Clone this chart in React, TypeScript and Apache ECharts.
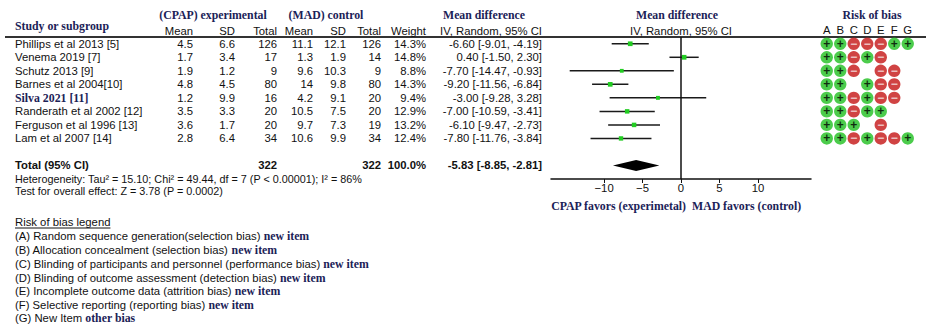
import React, { useEffect, useRef } from "react";
import * as echarts from "echarts";

// ---------- data ----------
const studies = [
  "Phillips et al 2013 [5]",
  "Venema 2019 [7]",
  "Schutz 2013 [9]",
  "Barnes et al 2004[10]",
  "Silva 2021 [11]",
  "Randerath et al 2002 [12]",
  "Ferguson et al 1996 [13]",
  "Lam et al 2007 [14]",
];
const expMean = [4.5, 1.7, 1.9, 4.8, 1.2, 3.5, 3.6, 2.8];
const expSD = [6.6, 3.4, 1.2, 4.5, 9.9, 3.3, 1.7, 6.4];
const expTotal = [126, 17, 9, 80, 16, 20, 20, 34];
const ctlMean = [11.1, 1.3, 9.6, 14, 4.2, 10.5, 9.7, 10.6];
const ctlSD = [12.1, 1.9, 10.3, 9.8, 9.1, 7.5, 7.3, 9.9];
const ctlTotal = [126, 14, 9, 80, 20, 20, 19, 34];
const weights = [14.3, 14.8, 8.8, 14.3, 9.4, 12.9, 13.2, 12.4];
const md = [-6.6, 0.4, -7.7, -9.2, -3.0, -7.0, -6.1, -7.8];
const ciLow = [-9.01, -1.5, -14.47, -11.56, -9.28, -10.59, -9.47, -11.76];
const ciHigh = [-4.19, 2.3, -0.93, -6.84, 3.28, -3.41, -2.73, -3.84];

const totalLabel = "Total (95% CI)";
const totalRowIndex = 9;
const totalExp = 322;
const totalCtl = 322;
const totalWeight = 100.0;
const totalMD = -5.83;
const totalLow = -8.85;
const totalHigh = -2.81;

const xTicks = [-10, -5, 0, 5, 10];

const robDomains = ["A", "B", "C", "D", "E", "F", "G"];
const robRows = [
  "++---++",
  "++-+-  ",
  "++- -- ",
  "++ +-- ",
  "++-+-- ",
  "++-++  ",
  "+++ -  ",
  "++-+--+",
];

const heterogeneity =
  "Heterogeneity: Tau\u00b2 = 15.10; Chi\u00b2 = 49.44, df = 7 (P < 0.00001); I\u00b2 = 86%";
const overallEffect = "Test for overall effect: Z = 3.78 (P = 0.0002)";
const legendTitle = "Risk of bias legend";
const legendItems = [
  ["(A) Random sequence generation(selection bias) ", "new item"],
  ["(B) Allocation concealment (selection bias) ", "new item"],
  ["(C) Blinding of participants and personnel (performance bias) ", "new item"],
  ["(D) Blinding of outcome assessment (detection bias) ", "new item"],
  ["(E) Incomplete outcome data (attrition bias) ", "new item"],
  ["(F) Selective reporting (reporting bias) ", "new item"],
  ["(G) New Item ", "other bias"],
];

// ---------- styles ----------
const SANS = '"Liberation Sans", Arial, sans-serif';
const SERIF = '"Liberation Serif", "Times New Roman", serif';
const FS = 11.3;
const SFS = 11.8;
const NAVY = "#1b2257";
const INK = "#111111";
const GREEN = "#1fbf1f";
const RED = "#c41414";
const MARK = "#22cc22";

const colRight = [193, 235, 277, 313, 346, 381, 426, 542];
const nameX = 15;

const f2 = (v: number) => v.toFixed(2);
const ciText = (m: number, l: number, h: number) => `${f2(m)} [${f2(l)}, ${f2(h)}]`;

type Row = { name: string; cells: string[]; row: number; serifName: boolean; bold: boolean };
const tableRows: Row[] = studies.map((s, i) => ({
  name: s,
  cells: [
    String(expMean[i]),
    String(expSD[i]),
    String(expTotal[i]),
    String(ctlMean[i]),
    String(ctlSD[i]),
    String(ctlTotal[i]),
    weights[i].toFixed(1) + "%",
    ciText(md[i], ciLow[i], ciHigh[i]),
  ],
  row: i,
  serifName: s.startsWith("Silva"),
  bold: false,
}));
tableRows.push({
  name: totalLabel,
  cells: ["", "", String(totalExp), "", "", String(totalCtl), totalWeight.toFixed(1) + "%", ciText(totalMD, totalLow, totalHigh)],
  row: totalRowIndex,
  serifName: false,
  bold: true,
});

function txt(text: string, x: number, y: number, opts: any = {}) {
  const align = opts.align || "left";
  return {
    type: "text",
    x,
    y,
    silent: true,
    style: {
      text,
      fill: opts.color || INK,
      fontSize: opts.size || FS,
      fontFamily: opts.family || SANS,
      fontWeight: opts.weight || "normal",
      align,
      textAlign: align,
      verticalAlign: "middle",
      textVerticalAlign: "middle",
      rich: opts.rich,
    },
  };
}

function measure(text: string, font: string) {
  const c = document.createElement("canvas").getContext("2d");
  if (!c) return text.length * 5.5;
  c.font = font;
  return c.measureText(text).width;
}

export default function App() {
  const ref = useRef<HTMLDivElement>(null);
  useEffect(() => {
    if (!ref.current) return;
    const chart = echarts.init(ref.current, null, { renderer: "svg" });

    const yAxisBase = { type: "value", min: -0.5, max: 10, inverse: true, show: false };

    const robData: any[] = [];
    robRows.forEach((r, i) => {
      r.split("").forEach((c, j) => {
        if (c === " ") return;
        const plus = c === "+";
        robData.push({
          value: [j, i, plus ? 1 : -1],
          itemStyle: { color: plus ? GREEN : RED },
          label: {
            show: true,
            position: "inside",
            formatter: plus ? "+" : "\u2212",
            color: plus ? "#000" : "#f6e6e6",
            fontSize: 12,
            fontWeight: "bold",
            fontFamily: SANS,
          },
        });
      });
    });

    const legendW = measure(legendTitle, `${FS}px ${SANS}`);
    const smallFS = 10.8;

    const graphic: any[] = [
      { type: "line", silent: true, shape: { x1: 5, y1: 37, x2: 926, y2: 37 }, style: { stroke: "#333", lineWidth: 1.8 } },
      txt("Study or subgroup", nameX, 26, { family: SERIF, weight: "bold", size: SFS, color: NAVY }),
      txt("(CPAP) experimental", 213, 15, { family: SERIF, weight: "bold", size: SFS, color: NAVY, align: "center" }),
      txt("(MAD) control", 326, 15, { family: SERIF, weight: "bold", size: SFS, color: NAVY, align: "center" }),
      txt("Mean difference", 484, 15, { family: SERIF, weight: "bold", size: SFS, color: NAVY, align: "center" }),
      txt("Mean", colRight[0], 30.7, { align: "right" }),
      txt("SD", colRight[1], 30.7, { align: "right" }),
      txt("Total", colRight[2], 30.7, { align: "right" }),
      txt("Mean", colRight[3], 30.7, { align: "right" }),
      txt("SD", colRight[4], 30.7, { align: "right" }),
      txt("Total", colRight[5], 30.7, { align: "right" }),
      txt("Weight", colRight[6], 30.7, { align: "right" }),
      txt("IV, Random, 95% CI", colRight[7], 30.7, { align: "right" }),
      txt("Mean difference", 677, 15, { family: SERIF, weight: "bold", size: SFS, color: NAVY, align: "center" }),
      txt("IV, Random, 95% CI", 681, 30.7, { align: "center" }),
      txt("Risk of bias", 872, 15, { family: SERIF, weight: "bold", size: SFS, color: NAVY, align: "center" }),
      txt(heterogeneity, nameX, 178.5, { size: smallFS }),
      txt(overallEffect, nameX, 190.5, { size: smallFS }),
      txt("CPAP favors (experimetal)", 686, 206, { family: SERIF, weight: "bold", size: SFS, color: NAVY, align: "right" }),
      txt("MAD favors (control)", 692, 206, { family: SERIF, weight: "bold", size: SFS, color: NAVY }),
      txt(legendTitle, nameX, 222, {}),
      { type: "line", silent: true, shape: { x1: nameX, y1: 228, x2: nameX + legendW, y2: 228 }, style: { stroke: INK, lineWidth: 1 } },
    ];
    const legendYs = [236, 250, 263.5, 277.5, 291, 305, 318];
    legendItems.forEach((it, k) => {
      graphic.push(
        txt(`{a|${it[0]}}{b|${it[1]}}`, nameX, legendYs[k], {
          rich: {
            a: { fontSize: FS, fontFamily: SANS, fill: INK, color: INK },
            b: { fontSize: SFS, fontFamily: SERIF, fontWeight: "bold", fill: NAVY, color: NAVY },
          },
        })
      );
    });

    chart.setOption({
      animation: false,
      grid: [
        { left: 551, top: 37, width: 260, height: 142 },
        { left: 0, top: 37, width: 929, height: 142 },
        { left: 820, top: 37, width: 94.5, height: 142 },
      ],
      xAxis: [
        {
          gridIndex: 0,
          type: "value",
          min: -16.9,
          max: 16.9,
          position: "bottom",
          axisLine: { show: true, onZero: false, lineStyle: { color: INK, width: 1.5 } },
          axisTick: { show: true, customValues: xTicks, length: 4, lineStyle: { color: INK } },
          axisLabel: {
            customValues: xTicks,
            color: INK,
            fontSize: FS,
            fontFamily: SANS,
            margin: 3,
            formatter: (v: number) => (v < 0 ? "\u2212" + Math.abs(v) : String(v)),
          },
          splitLine: { show: false },
        },
        { gridIndex: 1, type: "value", min: 0, max: 929, show: false },
        {
          gridIndex: 2,
          type: "category",
          data: robDomains,
          position: "top",
          axisLine: { show: false, onZero: false },
          axisTick: { show: false },
          axisLabel: { color: INK, fontSize: FS, fontFamily: SANS, margin: 2 },
          splitLine: { show: false },
        },
      ],
      yAxis: [
        { ...yAxisBase, gridIndex: 0 },
        { ...yAxisBase, gridIndex: 1 },
        { ...yAxisBase, gridIndex: 2 },
      ],
      graphic,
      series: [
        {
          type: "custom",
          name: "studies",
          xAxisIndex: 0,
          yAxisIndex: 0,
          data: md.map((m, i) => [ciLow[i], ciHigh[i], m, i, weights[i]]),
          encode: { x: [0, 1, 2], y: 3 },
          renderItem: (params: any, api: any) => {
            const row = api.value(3);
            const lo = api.coord([api.value(0), row]);
            const hi = api.coord([api.value(1), row]);
            const mid = api.coord([api.value(2), row]);
            const s = 2.4 + api.value(4) * 0.16;
            return {
              type: "group",
              children: [
                { type: "line", shape: { x1: lo[0], y1: lo[1], x2: hi[0], y2: hi[1] }, style: { stroke: "#1a1a1a", lineWidth: 1.5 } },
                { type: "rect", shape: { x: mid[0] - s / 2, y: mid[1] - s / 2, width: s, height: s }, style: { fill: MARK } },
              ],
            };
          },
          markLine: {
            silent: true,
            symbol: ["none", "none"],
            label: { show: false },
            lineStyle: { color: INK, width: 1.5, type: "solid" },
            data: [{ xAxis: 0 }],
          },
          z: 3,
        },
        {
          type: "custom",
          name: "total",
          xAxisIndex: 0,
          yAxisIndex: 0,
          data: [[totalLow, totalHigh, totalMD, totalRowIndex]],
          encode: { x: [0, 1, 2], y: 3 },
          renderItem: (params: any, api: any) => {
            const row = api.value(3);
            const a = api.coord([api.value(0), row]);
            const b = api.coord([api.value(2), row - 0.4]);
            const c = api.coord([api.value(1), row]);
            const d = api.coord([api.value(2), row + 0.4]);
            return { type: "polygon", shape: { points: [a, b, c, d] }, style: { fill: "#000" } };
          },
          z: 4,
        },
        {
          type: "custom",
          name: "table",
          xAxisIndex: 1,
          yAxisIndex: 1,
          data: tableRows.map((r) => [0, r.row]),
          encode: { x: 0, y: 1 },
          renderItem: (params: any, api: any) => {
            const r = tableRows[params.dataIndex];
            const y = api.coord([0, r.row])[1];
            const children: any[] = [];
            children.push(
              txt(r.name, api.coord([nameX, r.row])[0], y, r.serifName
                ? { family: SERIF, weight: "bold", size: SFS, color: NAVY }
                : { weight: r.bold ? "bold" : "normal" })
            );
            r.cells.forEach((c, k) => {
              if (!c) return;
              children.push(txt(c, api.coord([colRight[k], r.row])[0], y, { align: "right", weight: r.bold ? "bold" : "normal" }));
            });
            return { type: "group", children };
          },
        },
        {
          type: "scatter",
          name: "risk of bias",
          xAxisIndex: 2,
          yAxisIndex: 2,
          symbol: "circle",
          symbolSize: 12.4,
          data: robData,
          z: 3,
        },
      ],
    });
    return () => chart.dispose();
  }, []);
  return (
    <div
      ref={ref}
      style={{ position: "fixed", left: 0, top: 0, width: 929, height: 326, background: "#fff" }}
    />
  );
}
